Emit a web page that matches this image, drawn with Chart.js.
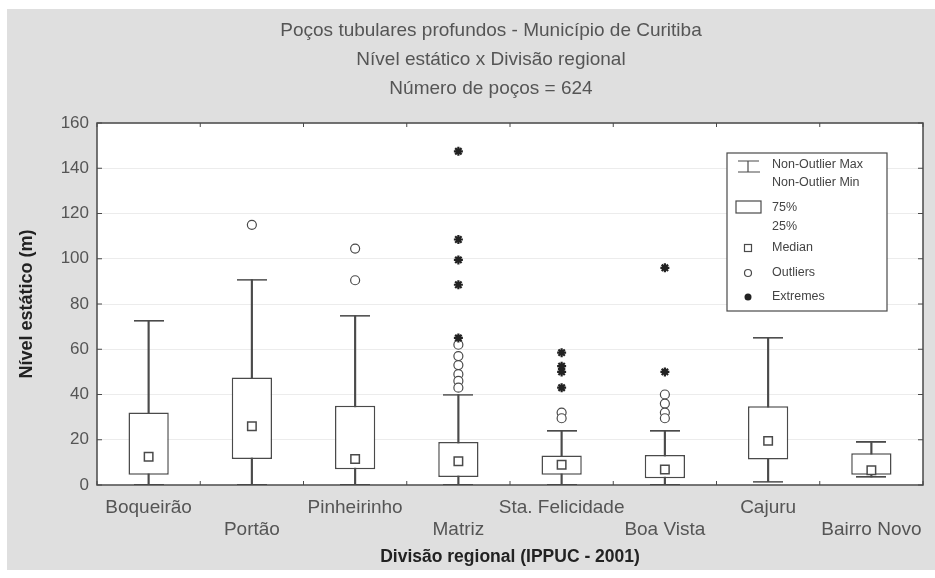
<!DOCTYPE html>
<html>
<head>
<meta charset="utf-8">
<title>Nível estático x Divisão regional</title>
<script src="https://cdn.jsdelivr.net/npm/chart.js@4.4.1/dist/chart.umd.min.js"></script>
<style>
  html, body { margin: 0; padding: 0; background: #fff; }
</style>
</head>
<body>
<canvas id="chart" width="935" height="578"></canvas>
<script>
'use strict';

// box plot values (metres)
const categories = ['Boqueirão', 'Portão', 'Pinheirinho', 'Matriz', 'Sta. Felicidade', 'Boa Vista', 'Cajuru', 'Bairro Novo'];
const whiskerMin = [0, 0, 0, 0, 0, 0, 1.5, 3.5];
const q1 = [4.5, 11.5, 7, 3.5, 4.5, 3, 11.3, 4.5];
const median = [12.5, 26, 11.5, 10.5, 9, 6.8, 19.5, 6.5];
const q3 = [32, 47.5, 35, 19, 13, 13.3, 34.8, 14];
const whiskerMax = [72.5, 90.8, 74.8, 40, 23.8, 23.8, 65, 18.8];
const outliers = [[], [115], [104.5, 90.5], [62, 57, 53, 49, 46, 43], [32, 29.5], [40, 36, 32, 29.5], [], []];
const extremes = [[], [], [], [147.5, 108.5, 99.5, 88.5, 65], [58.5, 52.5, 50, 43], [96, 50], [], []];
const yTicks = [0, 20, 40, 60, 80, 100, 120, 140, 160];

const titleLines = ['Poços tubulares profundos - Município de Curitiba', 'Nível estático x Divisão regional', 'Número de poços = 624'];
const legendLabels = ['Non-Outlier Max', 'Non-Outlier Min', '75%', '25%', 'Median', 'Outliers', 'Extremes'];

const lineColor = '#4a4a4a';
const textColor = '#555';
const fontFamily = '"Liberation Sans", Arial, sans-serif';

function toPoints(lists) {
  let pts = [];
  lists.forEach((vals, i) => {
    vals.forEach(v => pts.push({ x: categories[i], y: v }));
  });
  return pts;
}

const capPoints = categories.map((c, i) => ({ x: c, y: whiskerMax[i] }))
  .concat(categories.map((c, i) => ({ x: c, y: whiskerMin[i] })));

// whisker cap drawn as a small image point style (keeps layout overflow small)
const capImg = document.createElement('canvas');
capImg.width = 30;
capImg.height = 2;
const capCtx = capImg.getContext('2d');
capCtx.fillStyle = lineColor;
capCtx.fillRect(0, 0, 30, 1.6);

const frame = {
  id: 'frame',
  beforeDraw(chart) {
    const { ctx, chartArea: a } = chart;
    ctx.save();
    ctx.fillStyle = '#fff';
    ctx.fillRect(0, 0, chart.width, chart.height);
    ctx.fillStyle = '#dfdfdf';
    ctx.fillRect(7, 9, chart.width - 7, chart.height - 17);
    ctx.fillStyle = '#fff';
    ctx.fillRect(a.left, a.top, a.right - a.left, a.bottom - a.top);

    ctx.fillStyle = textColor;
    ctx.font = '19px ' + fontFamily;
    ctx.textAlign = 'center';
    ctx.textBaseline = 'middle';
    titleLines.forEach((t, i) => ctx.fillText(t, 491, 31 + i * 29));
    ctx.restore();
  },
  afterDraw(chart) {
    const { ctx, chartArea: a } = chart;
    const xs = chart.scales.x;
    const ys = chart.scales.y;
    ctx.save();
    ctx.strokeStyle = lineColor;
    ctx.lineWidth = 1.5;
    ctx.strokeRect(a.left, a.top, a.right - a.left, a.bottom - a.top);

    // small inward tick marks
    ctx.lineWidth = 1;
    ctx.beginPath();
    yTicks.forEach(v => {
      const y = ys.getPixelForValue(v);
      ctx.moveTo(a.left, y); ctx.lineTo(a.left + 5, y);
      ctx.moveTo(a.right, y); ctx.lineTo(a.right - 5, y);
    });
    for (let i = 0; i <= categories.length; i++) {
      const x = xs.getPixelForValue(i - 0.5);
      ctx.moveTo(x, a.bottom); ctx.lineTo(x, a.bottom - 4);
      ctx.moveTo(x, a.top); ctx.lineTo(x, a.top + 4);
    }
    ctx.stroke();

    // legend box
    const bx = a.right - 196;
    const by = a.top + 30;
    ctx.fillStyle = '#fff';
    ctx.fillRect(bx, by, 160, 158);
    ctx.lineWidth = 1.2;
    ctx.strokeRect(bx, by, 160, 158);

    const sx = bx + 21;
    ctx.beginPath();
    ctx.moveTo(bx + 11, by + 8); ctx.lineTo(bx + 32, by + 8);
    ctx.moveTo(sx, by + 8); ctx.lineTo(sx, by + 19);
    ctx.moveTo(bx + 11, by + 19); ctx.lineTo(bx + 33, by + 19);
    ctx.stroke();
    ctx.strokeRect(bx + 9, by + 48, 25, 12);
    ctx.strokeRect(sx - 3.5, by + 91.5, 7, 7);
    ctx.beginPath();
    ctx.arc(sx, by + 120, 3.5, 0, Math.PI * 2);
    ctx.stroke();
    ctx.fillStyle = '#222';
    ctx.beginPath();
    ctx.arc(sx, by + 144, 3.5, 0, Math.PI * 2);
    ctx.fill();

    ctx.fillStyle = '#444';
    ctx.font = '12.5px ' + fontFamily;
    ctx.textAlign = 'left';
    ctx.textBaseline = 'middle';
    const rows = [12, 30, 55, 74, 95, 120, 144];
    legendLabels.forEach((t, i) => ctx.fillText(t, bx + 45, by + rows[i]));
    ctx.restore();
  }
};

const canvasEl = document.getElementById('chart');

new Chart(canvasEl, {
  type: 'bar',
  data: {
    labels: categories,
    datasets: [{
      type: 'bar',
      label: 'Whisker',
      data: categories.map((c, i) => [whiskerMin[i], whiskerMax[i]]),
      backgroundColor: lineColor,
      barThickness: 1.5,
      grouped: false,
      order: 5
    }, {
      type: 'bar',
      label: 'Box',
      data: categories.map((c, i) => [q1[i], q3[i]]),
      backgroundColor: '#fff',
      borderColor: lineColor,
      borderWidth: 1.5,
      borderSkipped: false,
      barPercentage: 0.39,
      categoryPercentage: 1,
      grouped: false,
      order: 4
    }, {
      type: 'line',
      label: 'Caps',
      data: capPoints,
      showLine: false,
      pointStyle: capImg,
      pointRadius: 1,
      pointBorderWidth: 0,
      order: 3
    }, {
      type: 'line',
      label: 'Median',
      data: median,
      showLine: false,
      pointStyle: 'rect',
      pointRadius: 6,
      pointBackgroundColor: '#fff',
      pointBorderColor: lineColor,
      pointBorderWidth: 1.5,
      order: 2
    }, {
      type: 'line',
      label: 'Outliers',
      data: toPoints(outliers),
      showLine: false,
      pointStyle: 'circle',
      pointRadius: 4.5,
      pointBackgroundColor: '#fff',
      pointBorderColor: lineColor,
      pointBorderWidth: 1.2,
      order: 1
    }, {
      type: 'line',
      label: 'Extremes',
      data: toPoints(extremes),
      showLine: false,
      pointStyle: 'star',
      pointRadius: 4.5,
      pointBorderColor: '#222',
      pointBorderWidth: 2.2,
      order: 0
    }]
  },
  plugins: [frame],
  options: {
    responsive: false,
    animation: false,
    events: [],
    layout: { padding: { left: 10, right: 12, top: 123, bottom: 0 } },
    plugins: {
      legend: { display: false },
      title: { display: false },
      tooltip: { enabled: false }
    },
    scales: {
      x: {
        type: 'category',
        offset: true,
        grid: { display: false },
        border: { display: false },
        afterFit(scale) {
          scale.height = 93;
          scale.paddingLeft = 0;
          scale.paddingRight = 0;
        },
        ticks: {
          autoSkip: false,
          maxRotation: 0,
          minRotation: 0,
          padding: 4,
          color: textColor,
          font: { family: fontFamily, size: 19, lineHeight: 1.15 },
          callback: function (value, index) {
            const name = categories[index];
            return index % 2 === 0 ? [name, ''] : ['', name];
          }
        },
        title: {
          display: true,
          text: 'Divisão regional (IPPUC - 2001)',
          color: '#222',
          font: { family: fontFamily, size: 17.5, weight: 'bold' },
          padding: { top: 4, bottom: 10.5 }
        }
      },
      y: {
        min: 0,
        max: 160,
        afterFit(scale) { scale.width = 87; },
        grid: { color: '#ececec', drawTicks: false },
        border: { display: false },
        ticks: {
          stepSize: 20,
          padding: 8,
          color: textColor,
          font: { family: fontFamily, size: 17 }
        },
        title: {
          display: true,
          text: 'Nível estático (m)',
          color: '#222',
          font: { family: fontFamily, size: 18, weight: 'bold' },
          padding: { top: 6, bottom: 0 }
        }
      }
    }
  }
});
</script>
</body>
</html>
